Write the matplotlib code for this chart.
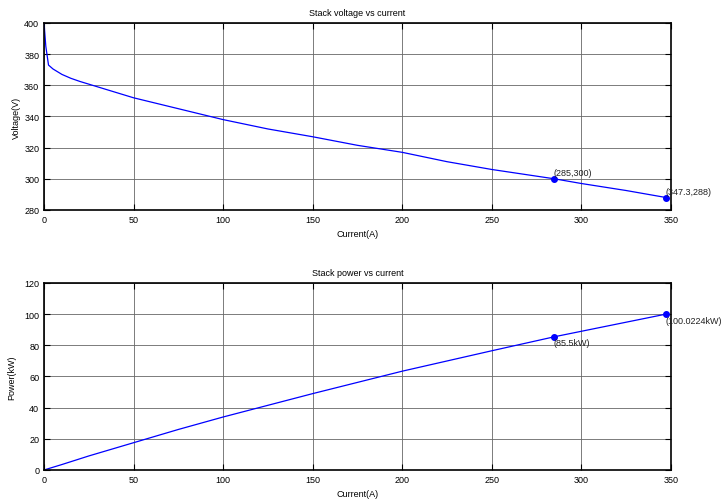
import numpy as np
import matplotlib
matplotlib.use('Agg')
import matplotlib.pyplot as plt

plt.rcParams['font.family'] = ['Liberation Sans', 'DejaVu Sans']

# stack voltage vs current
current_v = [0, 1, 2.5, 5, 10, 15, 20, 30, 40, 50, 75, 100, 125, 150, 175,
             200, 225, 250, 285, 300, 325, 347.3]
voltage = [400, 385, 373, 370.5, 367, 364.5, 362.5, 359, 355.5, 352, 345, 338,
           332, 327, 321.5, 317, 311, 306, 300, 297, 292.5, 288]

# stack power vs current
current_p = [0, 10, 25, 50, 75, 100, 150, 200, 250, 285, 300, 347.3]
power = [0, 3.5, 9, 17.5, 26, 34, 49, 63.4, 76.5, 85.5, 89, 100.0224]

v_marks = [(285, 300), (347.3, 288)]
v_labels = ['(285,300)', '(347.3,288)']
p_marks = [(285, 85.5), (347.3, 100.0224)]
p_labels = ['(85.5kW)', '(100.0224kW)']

fig = plt.figure(figsize=(7.23, 5.02), dpi=100)

ax1 = fig.add_axes([0.0609, 0.5797, 0.867, 0.3725])
ax2 = fig.add_axes([0.0609, 0.0618, 0.867, 0.3725])


def style(ax):
    ax.set_xlim(0, 350)
    ax.set_xticks(np.arange(0, 351, 50))
    ax.grid(True, color='#666666', linewidth=0.6)
    ax.tick_params(direction='in', top=True, right=True, labelsize=6.5, length=4, width=0.8)
    for s in ax.spines.values():
        s.set_linewidth(1.2)


ax1.plot(current_v, voltage, color='#0000ff', linewidth=0.9)
for (x, y), lab in zip(v_marks, v_labels):
    ax1.plot(x, y, 'o', color='#0000ff', markersize=4)
    ax1.text(x - 0.5, y + 1, lab, fontsize=6.5, ha='left', va='bottom', color='#222222')
ax1.set_ylim(280, 400)
ax1.set_yticks(np.arange(280, 401, 20))
ax1.set_title('Stack voltage vs current', fontsize=6.5, pad=6)
ax1.set_xlabel('Current(A)', fontsize=6.5, labelpad=4)
ax1.set_ylabel('Voltage(V)', fontsize=6.5, labelpad=2)
style(ax1)

ax2.plot(current_p, power, color='#0000ff', linewidth=0.9)
for (x, y), lab in zip(p_marks, p_labels):
    ax2.plot(x, y, 'o', color='#0000ff', markersize=4)
    ax2.text(x - 0.5, y - 1, lab, fontsize=6.5, ha='left', va='top', color='#222222')
ax2.set_ylim(0, 120)
ax2.set_yticks(np.arange(0, 121, 20))
ax2.set_title('Stack power vs current', fontsize=6.5, pad=6)
ax2.set_xlabel('Current(A)', fontsize=6.5, labelpad=4)
ax2.set_ylabel('Power(kW)', fontsize=6.5, labelpad=6)
style(ax2)

fig.savefig('out.png', dpi=100)
